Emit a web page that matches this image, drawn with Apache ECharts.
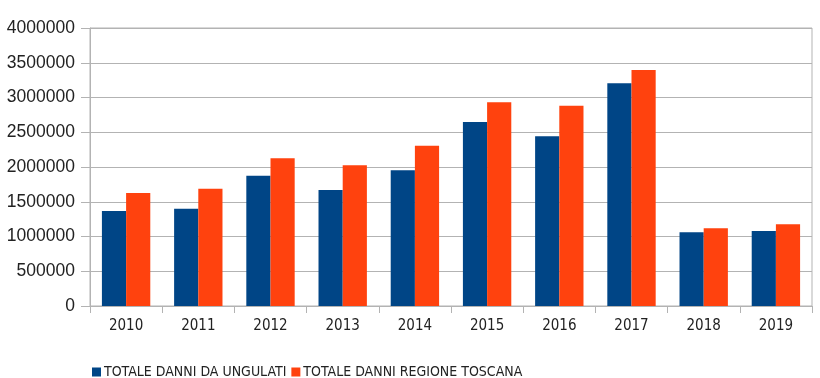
<!DOCTYPE html>
<html>
<head>
<meta charset="utf-8">
<script src="https://cdn.jsdelivr.net/npm/echarts@6/dist/echarts.min.js"></script>
<style>html,body{margin:0;padding:0;background:#fff}#c{width:820px;height:378px}</style>
</head>
<body>
<div id="c"></div>
<script>
const categories = ['2010','2011','2012','2013','2014','2015','2016','2017','2018','2019'];
const seriesNames = ['TOTALE DANNI DA UNGULATI', 'TOTALE DANNI REGIONE TOSCANA'];
const ungulati = [1367000, 1400000, 1875000, 1669000, 1952000, 2647000, 2441000, 3204000, 1060000, 1079000];
const toscana = [1626000, 1688000, 2125000, 2024000, 2307000, 2930000, 2882000, 3396000, 1118000, 1175000];
const yTicks = [0, 500000, 1000000, 1500000, 2000000, 2500000, 3000000, 3500000, 4000000];

const narrow = "'DejaVu Sans Condensed', 'Liberation Sans', sans-serif";
const chart = echarts.init(document.getElementById('c'), null, {renderer: 'canvas'});
chart.setOption({
  animation: false,
  backgroundColor: '#fff',
  color: ['#004586', '#ff420e'],
  grid: {left: 90, right: 8, top: 28, bottom: 72, show: true, borderColor: '#b3b3b3', borderWidth: 1},
  legend: {
    data: seriesNames,
    left: 87, top: 360,
    itemWidth: 9, itemHeight: 9, itemGap: 5,
    icon: 'rect',
    textStyle: {fontFamily: narrow, fontSize: 14, color: '#222', padding: [0,0,0,-2]}
  },
  xAxis: {
    type: 'category',
    data: categories,
    axisLine: {lineStyle: {color: '#b3b3b3'}},
    axisTick: {show: true, length: 7, lineStyle: {color: '#b3b3b3'}},
    axisLabel: {fontFamily: narrow, fontSize: 15, color: '#222', margin: 13}
  },
  yAxis: {
    type: 'value',
    min: yTicks[0], max: yTicks[yTicks.length-1], interval: yTicks[1]-yTicks[0],
    axisLine: {show: true, lineStyle: {color: '#b3b3b3'}},
    axisTick: {show: true, inside: false, length: 9, lineStyle: {color: '#b3b3b3'}},
    splitLine: {lineStyle: {color: '#b3b3b3'}},
    axisLabel: {fontFamily: 'Liberation Sans', fontSize: 17.5, color: '#222', margin: 15, formatter: v => String(v)}
  },
  series: [
    {name: seriesNames[0], type: 'bar', data: ungulati, barGap: '0%', barCategoryGap: '33%'},
    {name: seriesNames[1], type: 'bar', data: toscana, barGap: '0%', barCategoryGap: '33%'}
  ]
});
</script>
</body>
</html>
